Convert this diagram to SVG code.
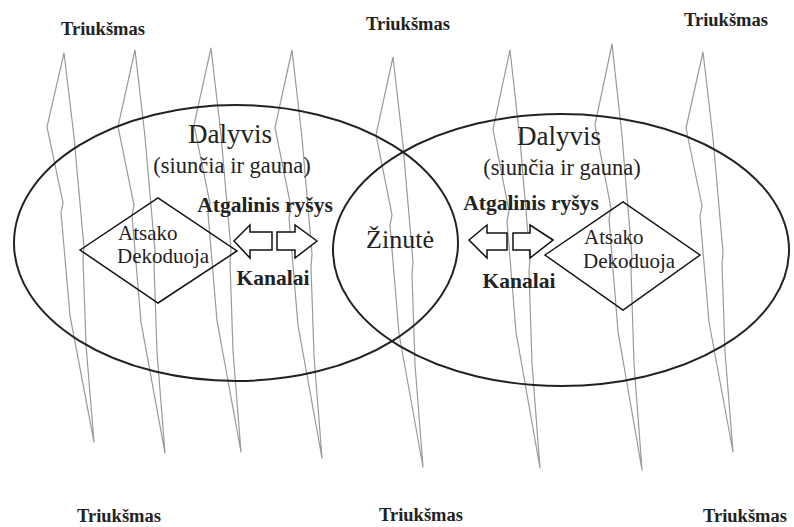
<svg xmlns="http://www.w3.org/2000/svg" xmlns:xlink="http://www.w3.org/1999/xlink" width="794" height="527" viewBox="0 0 794 527">
<style>
.noise{fill:none;stroke:#9a9a9a;stroke-width:1.2;vector-effect:non-scaling-stroke;stroke-linejoin:round}
.ell{fill:none;stroke:#222;stroke-width:2}
.dia{fill:none;stroke:#111;stroke-width:1.5}
.arr{fill:#fff;stroke:#111;stroke-width:1.5;stroke-linejoin:miter}
text{font-family:"Liberation Serif","Times New Roman",serif;fill:#222}
.tr{font-size:18.5px;font-weight:bold}
.big{font-size:27px}
.sub{font-size:22.5px}
.lab{font-size:21.5px;font-weight:bold}
.dt{font-size:21px}
</style>
<defs>
<path id="bolt" d="M0,0 L-17,76 L-1,154 L-3,164 L6,270 L30,400 L22,300 L19,212 L20,200 L10,86 Z"/>
</defs>
<rect width="794" height="527" fill="#fff"/>
<g id="noise-lines">
<use xlink:href="#bolt" class="noise" transform="translate(64,53) scale(1,0.973)"/>
<use xlink:href="#bolt" class="noise" transform="translate(135,50) scale(1,1.008)"/>
<use xlink:href="#bolt" class="noise" transform="translate(211,48) scale(1,1.01)"/>
<use xlink:href="#bolt" class="noise" transform="translate(292,50) scale(1,1.02)"/>
<use xlink:href="#bolt" class="noise" transform="translate(393,57) scale(1,1.025)"/>
<use xlink:href="#bolt" class="noise" transform="translate(510,50) scale(1,1.045)"/>
<use xlink:href="#bolt" class="noise" transform="translate(612,44) scale(1,1.065)"/>
<use xlink:href="#bolt" class="noise" transform="translate(703,52) scale(1,1.0)"/>
</g>
<g id="left-participant">
<ellipse class="ell" cx="236" cy="243" rx="222" ry="138"/>
<text class="big" x="230" y="143" text-anchor="middle">Dalyvis</text>
<text class="sub" x="232" y="173" text-anchor="middle">(siunčia ir gauna)</text>
</g>
<g id="right-participant">
<ellipse class="ell" cx="561" cy="250" rx="228" ry="136"/>
<text class="big" x="559" y="145" text-anchor="middle">Dalyvis</text>
<text class="sub" x="562" y="175" text-anchor="middle">(siunčia ir gauna)</text>
</g>
<g id="message">
<text class="big" x="400" y="248" text-anchor="middle" style="font-size:26px">Žinutė</text>
</g>
<g id="left-decoder">
<polygon class="dia" points="80,250 158,198 237,251 158,303"/>
<text class="dt" x="118" y="240">Atsako</text>
<text class="dt" x="117" y="263">Dekoduoja</text>
</g>
<g id="right-decoder">
<polygon class="dia" points="545,255 623,202 700,255 623,310"/>
<text class="dt" x="584" y="244">Atsako</text>
<text class="dt" x="583" y="268">Dekoduoja</text>
</g>
<g id="left-channel">
<text class="lab" x="265" y="212" text-anchor="middle">Atgalinis ryšys</text>
<text class="lab" x="273" y="285" text-anchor="middle">Kanalai</text>
</g>
<g id="right-channel">
<text class="lab" x="531" y="210" text-anchor="middle">Atgalinis ryšys</text>
<text class="lab" x="519" y="288" text-anchor="middle">Kanalai</text>
</g>
<g id="connectors">
<polygon class="arr" points="234,241 250,225 250,232 272,232 272,250 250,250 250,258"/>
<polygon class="arr" points="317,241 295,225 295,232 277,232 277,250 295,250 295,258"/>
<polygon class="arr" points="469,240 487,225 487,233 507,233 507,250 487,250 487,258"/>
<polygon class="arr" points="553,240 530,225 530,233 513,233 513,250 530,250 530,258"/>
</g>
<g id="noise-labels">
<text class="tr" x="103" y="35" text-anchor="middle">Triukšmas</text>
<text class="tr" x="408" y="30" text-anchor="middle">Triukšmas</text>
<text class="tr" x="726" y="26" text-anchor="middle">Triukšmas</text>
<text class="tr" x="119" y="522" text-anchor="middle">Triukšmas</text>
<text class="tr" x="421" y="521" text-anchor="middle">Triukšmas</text>
<text class="tr" x="745" y="522" text-anchor="middle">Triukšmas</text>
</g>
</svg>
